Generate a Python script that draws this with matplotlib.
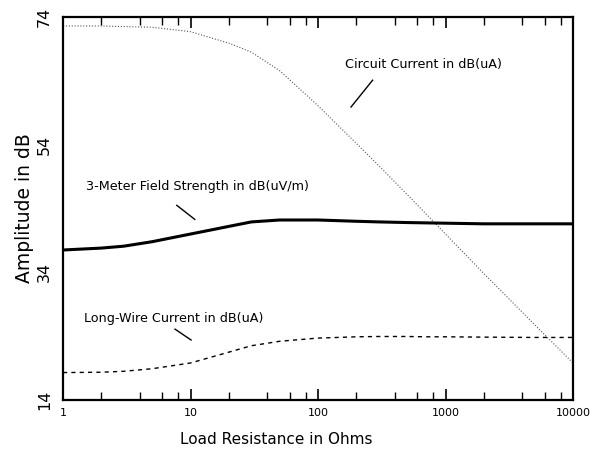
import matplotlib
matplotlib.use("Agg")
import matplotlib.pyplot as plt
from matplotlib.ticker import FixedLocator, NullFormatter

# Data
resistance = [1, 2, 3, 5, 10, 20, 30, 50, 100, 200, 300, 500, 700, 1000, 2000, 5000, 10000]
circuit_current = [72.6, 72.6, 72.5, 72.4, 71.7, 69.9, 68.5, 65.6, 60.1, 54.2, 50.7, 46.2, 43.2, 40.0, 33.8, 25.8, 19.8]
field_strength = [37.5, 37.8, 38.1, 38.8, 40.0, 41.2, 41.9, 42.2, 42.2, 42.0, 41.9, 41.8, 41.75, 41.7, 41.6, 41.6, 41.6]
longwire_current = [18.3, 18.35, 18.5, 18.9, 19.8, 21.5, 22.5, 23.2, 23.7, 23.9, 23.95, 23.95, 23.9, 23.9, 23.85, 23.8, 23.8]

x_ticks = [1, 10, 100, 1000, 10000]
x_tick_labels = ["1", "10", "100", "1000", "10000"]
y_ticks = [14, 34, 54, 74]
y_tick_labels = ["14", "34", "54", "74"]

fig = plt.figure(figsize=(5.9, 4.5), dpi=100)
ax = fig.add_axes([0.1068, 0.1111, 0.8644, 0.8511])

ax.plot(resistance, circuit_current, color="#555555", lw=0.8, linestyle=(0, (1, 1.6)))
ax.plot(resistance, field_strength, color="black", lw=2.2, solid_capstyle="butt")
ax.plot(resistance, longwire_current, color="black", lw=1.0, linestyle=(0, (3, 3)))

ax.set_xscale("log")
ax.set_xlim(1, 10000)
ax.set_ylim(14, 74)

ax.xaxis.set_major_locator(FixedLocator(x_ticks))
ax.set_xticklabels(x_tick_labels)
minors = [m * d for d in [1, 10, 100, 1000] for m in (2, 4, 6, 8)]
ax.xaxis.set_minor_locator(FixedLocator(minors))
ax.xaxis.set_minor_formatter(NullFormatter())
ax.tick_params(axis="x", which="major", direction="in", length=8, width=1.2,
               top=True, labelsize=8, pad=6)
ax.tick_params(axis="x", which="minor", direction="in", length=6, width=1.0, top=True)

ax.set_yticks(y_ticks)
ax.set_yticklabels(y_tick_labels, rotation=90, va="center")
ax.tick_params(axis="y", which="both", length=0, labelsize=11.5, pad=8)

for s in ax.spines.values():
    s.set_linewidth(1.6)

ax.set_xlabel("Load Resistance in Ohms", fontsize=11)
ax.xaxis.set_label_coords(0.418, -0.083)
ax.set_ylabel("Amplitude in dB", fontsize=13.5, labelpad=2)

ax.text(163, 66.5, "Circuit Current in dB(uA)", fontsize=9.2, va="center", ha="left")
ax.plot([268, 181.5], [64.1, 59.9], color="black", lw=1.0)

ax.text(1.51, 47.4, "3-Meter Field Strength in dB(uV/m)", fontsize=9.2, va="center", ha="left")
ax.plot([7.8, 10.8], [44.5, 42.3], color="black", lw=1.0)

ax.text(1.46, 26.8, "Long-Wire Current in dB(uA)", fontsize=9.2, va="center", ha="left")
ax.plot([7.56, 10.1], [25.1, 23.4], color="black", lw=1.0)

fig.savefig("out.png", dpi=100)
